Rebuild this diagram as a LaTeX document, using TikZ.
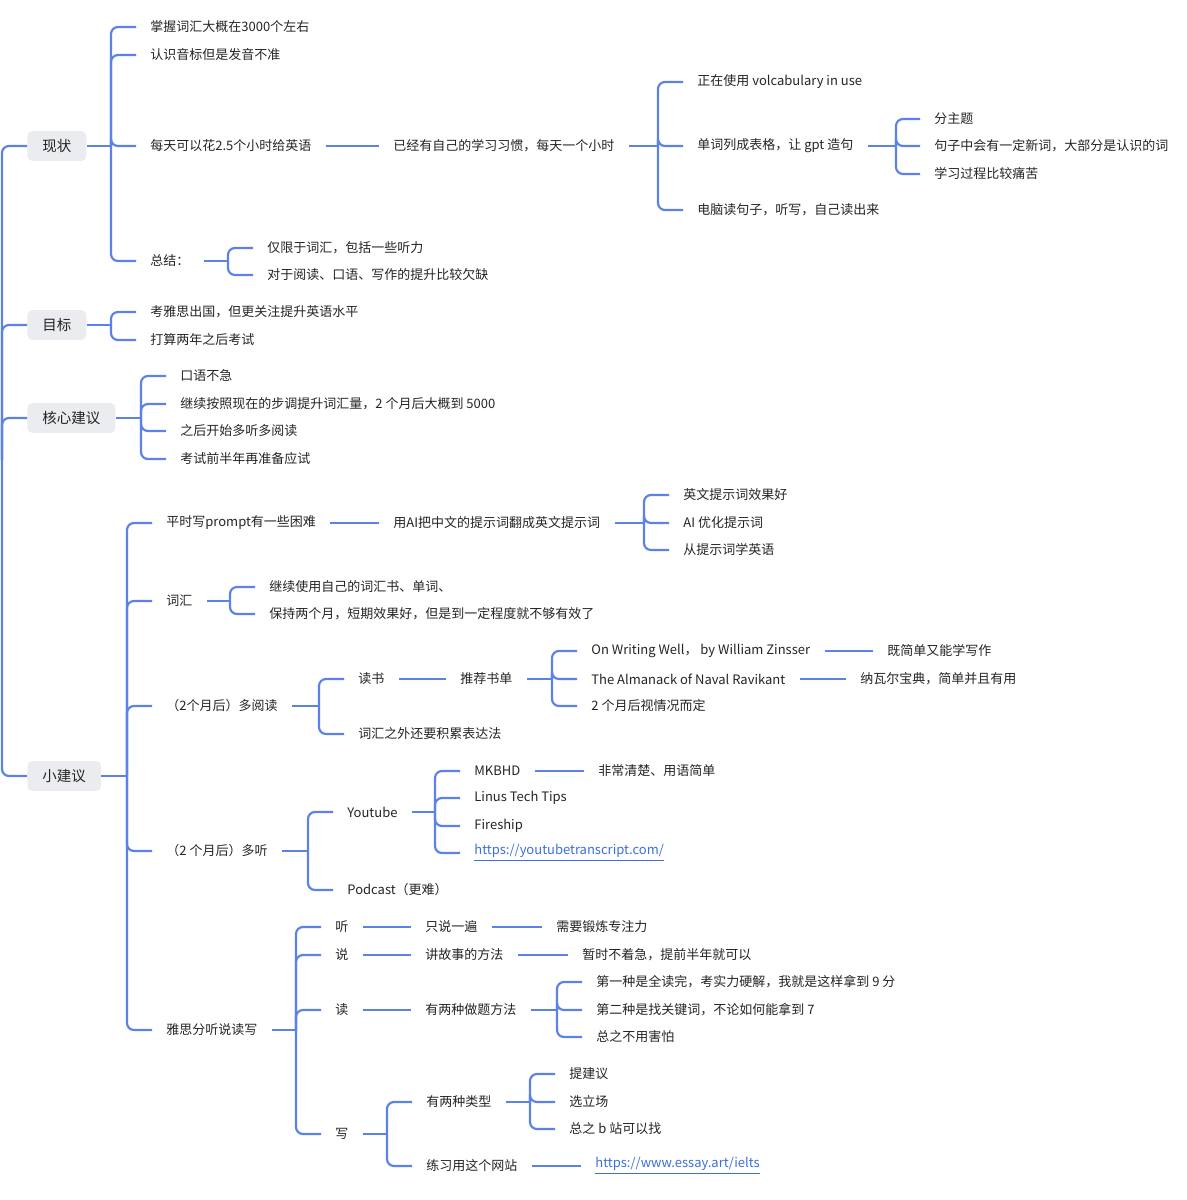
\documentclass[tikz,border=0pt]{standalone}
\usepackage{fontspec}
\newfontfamily\cjk{Noto Sans CJK SC}
\usepackage{xcolor}

\definecolor{lineblue}{RGB}{92,130,232}
\definecolor{txtgray}{RGB}{36,36,36}
\definecolor{topicbg}{RGB}{235,236,240}
\definecolor{urlblue}{RGB}{61,110,224}

\begin{document}
\begin{tikzpicture}[x=0.5pt, y=-0.5pt,
    conn/.style={draw=lineblue, line width=1.1pt, rounded corners=3.5pt},
    leaf/.style={anchor=west, inner xsep=7pt, inner ysep=1pt, text=txtgray,
      font=\cjk\fontsize{6.5pt}{8pt}\selectfont},
    topic/.style={anchor=west, fill=topicbg, rounded corners=2.5pt,
      minimum height=15pt, inner xsep=7.5pt, text=txtgray,
      font=\cjk\fontsize{7.25pt}{9pt}\selectfont},
    weblink/.style={leaf, text=urlblue}]

  \useasboundingbox (0,0) rectangle (1187,1200);

  % main topics on the spine
  \coordinate (root) at (2,460);
  \node[topic] (xz) at (27,146) {现状};
  \node[topic] (mb) at (27,325) {目标};
  \node[topic] (hx) at (27,418) {核心建议};
  \node[topic] (xj) at (27,776) {小建议};
  \foreach \t in {xz,mb,hx,xj}
    \draw[conn] (root) |- (\t.west);

  % 现状
  \coordinate (b-xz) at (111,146);
  \node[leaf] (xz1) at (136,27)  {掌握词汇大概在3000个左右};
  \node[leaf] (xz2) at (136,55)  {认识音标但是发音不准};
  \node[leaf] (xz3) at (136,146) {每天可以花2.5个小时给英语};
  \node[leaf] (xz4) at (136,261) {总结：};
  \draw[conn] (xz.east) -- (b-xz);
  \foreach \c in {xz1,xz2,xz3,xz4}
    \draw[conn] (b-xz) |- (\c.west);

  \node[leaf] (xh) at (379,146) {已经有自己的学习习惯，每天一个小时};
  \draw[conn] (xz3.east) -- (xh.west);
  \coordinate (b-xh) at (658,146);
  \node[leaf] (xh1) at (683,82)  {正在使用 volcabulary in use};
  \node[leaf] (xh2) at (683,146) {单词列成表格，让 gpt 造句};
  \node[leaf] (xh3) at (683,210) {电脑读句子，听写，自己读出来};
  \draw[conn] (xh.east) -- (b-xh);
  \foreach \c in {xh1,xh2,xh3}
    \draw[conn] (b-xh) |- (\c.west);

  \coordinate (b-gpt) at (896,146);
  \node[leaf] (gpt1) at (920,119) {分主题};
  \node[leaf] (gpt2) at (920,146) {句子中会有一定新词，大部分是认识的词};
  \node[leaf] (gpt3) at (920,174) {学习过程比较痛苦};
  \draw[conn] (xh2.east) -- (b-gpt);
  \foreach \c in {gpt1,gpt2,gpt3}
    \draw[conn] (b-gpt) |- (\c.west);

  \coordinate (b-zj) at (228,261);
  \node[leaf] (zj1) at (253,248) {仅限于词汇，包括一些听力};
  \node[leaf] (zj2) at (253,275) {对于阅读、口语、写作的提升比较欠缺};
  \draw[conn] (xz4.east) -- (b-zj);
  \foreach \c in {zj1,zj2}
    \draw[conn] (b-zj) |- (\c.west);

  % 目标
  \coordinate (b-mb) at (111,325);
  \node[leaf] (mb1) at (136,312) {考雅思出国，但更关注提升英语水平};
  \node[leaf] (mb2) at (136,340) {打算两年之后考试};
  \draw[conn] (mb.east) -- (b-mb);
  \foreach \c in {mb1,mb2}
    \draw[conn] (b-mb) |- (\c.west);

  % 核心建议
  \coordinate (b-hx) at (141,418);
  \node[leaf] (hx1) at (166,376) {口语不急};
  \node[leaf] (hx2) at (166,404) {继续按照现在的步调提升词汇量，2 个月后大概到 5000};
  \node[leaf] (hx3) at (166,431) {之后开始多听多阅读};
  \node[leaf] (hx4) at (166,459) {考试前半年再准备应试};
  \draw[conn] (hx.east) -- (b-hx);
  \foreach \c in {hx1,hx2,hx3,hx4}
    \draw[conn] (b-hx) |- (\c.west);

  % 小建议
  \coordinate (b-xj) at (127,776);
  \node[leaf] (xj1) at (152,523)  {平时写prompt有一些困难};
  \node[leaf] (xj2) at (152,601)  {词汇};
  \node[leaf] (xj3) at (152,706)  {（2个月后）多阅读};
  \node[leaf] (xj4) at (152,851)  {（2 个月后）多听};
  \node[leaf] (xj5) at (152,1030) {雅思分听说读写};
  \draw[conn] (xj.east) -- (b-xj);
  \foreach \c in {xj1,xj2,xj3,xj4,xj5}
    \draw[conn] (b-xj) |- (\c.west);

  \node[leaf] (pr) at (379,523) {用AI把中文的提示词翻成英文提示词};
  \draw[conn] (xj1.east) -- (pr.west);
  \coordinate (b-pr) at (644,523);
  \node[leaf] (pr1) at (669,495) {英文提示词效果好};
  \node[leaf] (pr2) at (669,523) {AI 优化提示词};
  \node[leaf] (pr3) at (669,550) {从提示词学英语};
  \draw[conn] (pr.east) -- (b-pr);
  \foreach \c in {pr1,pr2,pr3}
    \draw[conn] (b-pr) |- (\c.west);

  \coordinate (b-ch) at (230,601);
  \node[leaf] (ch1) at (255,587) {继续使用自己的词汇书、单词、};
  \node[leaf] (ch2) at (255,614) {保持两个月，短期效果好，但是到一定程度就不够有效了};
  \draw[conn] (xj2.east) -- (b-ch);
  \foreach \c in {ch1,ch2}
    \draw[conn] (b-ch) |- (\c.west);

  \coordinate (b-yd) at (319,706);
  \node[leaf] (yd1) at (344,679) {读书};
  \node[leaf] (yd2) at (344,734) {词汇之外还要积累表达法};
  \draw[conn] (xj3.east) -- (b-yd);
  \foreach \c in {yd1,yd2}
    \draw[conn] (b-yd) |- (\c.west);

  \node[leaf] (sd) at (446,679) {推荐书单};
  \draw[conn] (yd1.east) -- (sd.west);
  \coordinate (b-sd) at (552,679);
  \node[leaf] (sd1) at (577,651) {On Writing Well，\ by William Zinsser};
  \node[leaf] (sd2) at (577,679) {The Almanack of Naval Ravikant};
  \node[leaf] (sd3) at (577,706) {2 个月后视情况而定};
  \draw[conn] (sd.east) -- (b-sd);
  \foreach \c in {sd1,sd2,sd3}
    \draw[conn] (b-sd) |- (\c.west);
  \node[leaf] (sd1a) at (873,651) {既简单又能学写作};
  \node[leaf] (sd2a) at (846,679) {纳瓦尔宝典，简单并且有用};
  \draw[conn] (sd1.east) -- (sd1a.west);
  \draw[conn] (sd2.east) -- (sd2a.west);

  \coordinate (b-dt) at (308,851);
  \node[leaf] (yt) at (333,812) {Youtube};
  \node[leaf] (pc) at (333,890) {Podcast（更难）};
  \draw[conn] (xj4.east) -- (b-dt);
  \foreach \c in {yt,pc}
    \draw[conn] (b-dt) |- (\c.west);

  \coordinate (b-yt) at (435,812);
  \node[leaf] (yt1) at (460,771) {MKBHD};
  \node[leaf] (yt2) at (460,798) {Linus Tech Tips};
  \node[leaf] (yt3) at (460,826) {Fireship};
  \node[weblink] (yt4) at (460,853) {\underline{https://youtubetranscript.com/}};
  \draw[conn] (yt.east) -- (b-yt);
  \foreach \c in {yt1,yt2,yt3,yt4}
    \draw[conn] (b-yt) |- (\c.west);
  \node[leaf] (yt1a) at (584,771) {非常清楚、用语简单};
  \draw[conn] (yt1.east) -- (yt1a.west);

  % 雅思
  \coordinate (b-ys) at (296,1030);
  \node[leaf] (ting) at (321,927)  {听};
  \node[leaf] (shuo) at (321,955)  {说};
  \node[leaf] (du)   at (321,1010) {读};
  \node[leaf] (xie)  at (321,1134) {写};
  \draw[conn] (xj5.east) -- (b-ys);
  \foreach \c in {ting,shuo,du,xie}
    \draw[conn] (b-ys) |- (\c.west);

  \node[leaf] (ting1) at (411,927) {只说一遍};
  \node[leaf] (ting2) at (542,927) {需要锻炼专注力};
  \draw[conn] (ting.east) -- (ting1.west);
  \draw[conn] (ting1.east) -- (ting2.west);

  \node[leaf] (shuo1) at (411,955) {讲故事的方法};
  \node[leaf] (shuo2) at (568,955) {暂时不着急，提前半年就可以};
  \draw[conn] (shuo.east) -- (shuo1.west);
  \draw[conn] (shuo1.east) -- (shuo2.west);

  \node[leaf] (du1) at (411,1010) {有两种做题方法};
  \draw[conn] (du.east) -- (du1.west);
  \coordinate (b-du) at (557,1010);
  \node[leaf] (fa1) at (582,982)  {第一种是全读完，考实力硬解，我就是这样拿到 9 分};
  \node[leaf] (fa2) at (582,1010) {第二种是找关键词，不论如何能拿到 7};
  \node[leaf] (fa3) at (582,1037) {总之不用害怕};
  \draw[conn] (du1.east) -- (b-du);
  \foreach \c in {fa1,fa2,fa3}
    \draw[conn] (b-du) |- (\c.west);

  \coordinate (b-xie) at (387,1134);
  \node[leaf] (xie1) at (412,1102) {有两种类型};
  \node[leaf] (xie2) at (412,1166) {练习用这个网站};
  \draw[conn] (xie.east) -- (b-xie);
  \foreach \c in {xie1,xie2}
    \draw[conn] (b-xie) |- (\c.west);

  \coordinate (b-lx) at (530,1102);
  \node[leaf] (lx1) at (555,1074) {提建议};
  \node[leaf] (lx2) at (555,1102) {选立场};
  \node[leaf] (lx3) at (555,1129) {总之 b 站可以找};
  \draw[conn] (xie1.east) -- (b-lx);
  \foreach \c in {lx1,lx2,lx3}
    \draw[conn] (b-lx) |- (\c.west);

  \node[weblink] (web) at (581,1166) {\underline{https://www.essay.art/ielts}};
  \draw[conn] (xie2.east) -- (web.west);

\end{tikzpicture}
\end{document}
